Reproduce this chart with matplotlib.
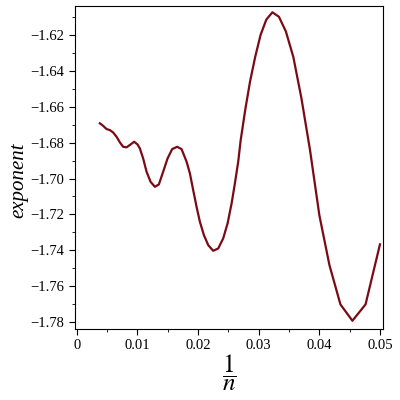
import matplotlib
matplotlib.use("Agg")
import matplotlib.pyplot as plt
from matplotlib.ticker import MultipleLocator

# valeurs (1/n, exposant)
inv_n = [0.003795, 0.004340, 0.004901, 0.005446, 0.005990, 0.006551,
         0.007096, 0.007640, 0.008201, 0.008746, 0.009455, 0.010017,
         0.010396, 0.010941, 0.011502, 0.012162, 0.012871, 0.013531,
         0.014241, 0.014967, 0.015726, 0.016551, 0.017277, 0.018102,
         0.018647, 0.019191, 0.019752, 0.020297, 0.020957, 0.021667,
         0.022492, 0.023317, 0.024142, 0.024868, 0.025528, 0.026073,
         0.026617,
         1/37, 1/36, 1/35, 1/34, 1/33, 1/32, 1/31, 1/30, 1/29, 1/28,
         1/27, 1/26, 1/25, 1/24, 1/23, 1/22, 1/21, 1/20]
exposant = [-1.6692, -1.6706, -1.6724, -1.6730, -1.6743, -1.6767,
            -1.6798, -1.6823, -1.6826, -1.6813, -1.6795, -1.6810,
            -1.6832, -1.6888, -1.6962, -1.7018, -1.7046, -1.7033,
            -1.6962, -1.6888, -1.6836, -1.6823, -1.6836, -1.6906,
            -1.6971, -1.7064, -1.7158, -1.7241, -1.7315, -1.7371,
            -1.7403, -1.7390, -1.7334, -1.7250, -1.7139, -1.7027,
            -1.6907,
            -1.6786, -1.6617, -1.6459, -1.6323, -1.6200, -1.6114, -1.6073,
            -1.6098, -1.6180, -1.6323, -1.6551, -1.6841, -1.7204, -1.7483,
            -1.7702, -1.7793, -1.7702, -1.7367]

plt.rcParams['font.family'] = ['Liberation Serif', 'DejaVu Serif']
plt.rcParams['mathtext.fontset'] = 'stix'

fig = plt.figure(figsize=(4, 4), dpi=100)
ax = fig.add_axes([0.1875, 0.1775, 0.77, 0.8075])
ax.plot(inv_n, exposant, color='#7a0a14', linewidth=1.6,
        solid_joinstyle='round')

ax.set_xlim(-0.0003, 0.0505)
ax.set_ylim(-1.7839, -1.6038)
ax.xaxis.set_major_locator(MultipleLocator(0.01))
ax.xaxis.set_minor_locator(MultipleLocator(0.005))
ax.yaxis.set_major_locator(MultipleLocator(0.02))
ax.yaxis.set_minor_locator(MultipleLocator(0.01))
ax.xaxis.set_major_formatter(lambda v, p: '0' if abs(v) < 1e-9 else f'{v:.2f}')
ax.yaxis.set_major_formatter(lambda v, p: f'{v:.2f}'.replace('-', '\u2212'))
ax.tick_params(which='major', length=4, labelsize=10.5, direction='out')
ax.tick_params(which='minor', length=2, direction='out')
ax.tick_params(top=False, right=False)

ax.set_xlabel(r'$\dfrac{1}{n}$', fontsize=18, labelpad=0)
ax.set_ylabel('exponent', fontsize=15, style='italic')
ax.yaxis.set_label_coords(-0.15, 0.46)

fig.savefig('out.png', dpi=100)
